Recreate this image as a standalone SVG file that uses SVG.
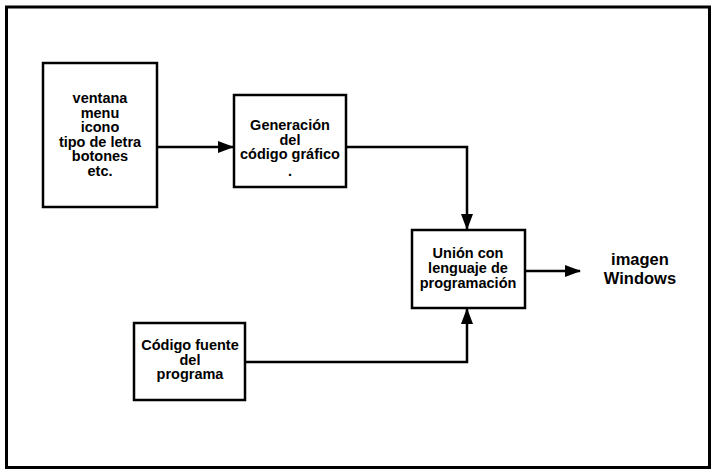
<svg xmlns="http://www.w3.org/2000/svg" width="713" height="470" viewBox="0 0 713 470">
<style>
.box{fill:#fff;stroke:#000;stroke-width:2.5}
.t{font-family:"Liberation Sans",Arial,sans-serif;font-weight:bold;font-size:14.5px;text-anchor:middle;fill:#000}
.big{font-size:16.5px}
.c{fill:none;stroke:#000;stroke-width:2.5}
</style>
<defs>
<marker id="ah" markerWidth="16" markerHeight="12" refX="15" refY="6" orient="auto" markerUnits="userSpaceOnUse">
<path d="M0,0 L16,6 L0,12 Z" fill="#000"/>
</marker>
</defs>
<rect x="6.5" y="7" width="703" height="460.5" fill="none" stroke="#000" stroke-width="3"/>
<g id="connectors">
<line class="c" x1="157" y1="147" x2="233" y2="147" marker-end="url(#ah)"/>
<polyline class="c" points="346,147 467,147 467,229" marker-end="url(#ah)"/>
<polyline class="c" points="245,362 467,362 467,309" marker-end="url(#ah)"/>
<line class="c" x1="525" y1="271" x2="580" y2="271" marker-end="url(#ah)"/>
</g>
<g id="n1">
<rect class="box" x="43" y="63" width="114" height="144"/>
<text class="t" x="100" y="103">ventana</text>
<text class="t" x="100" y="117.5">menu</text>
<text class="t" x="100" y="132">icono</text>
<text class="t" x="100" y="146.5">tipo de letra</text>
<text class="t" x="100" y="161">botones</text>
<text class="t" x="100" y="175.5">etc.</text>
</g>
<g id="n2">
<rect class="box" x="234" y="95" width="112" height="92"/>
<text class="t" x="290" y="130">Generación</text>
<text class="t" x="290" y="144.5">del</text>
<text class="t" x="290" y="159">código gráfico</text>
<text class="t" x="290" y="176">.</text>
</g>
<g id="n3">
<rect class="box" x="412" y="230" width="113" height="78"/>
<text class="t" x="468" y="258">Unión con</text>
<text class="t" x="468" y="273">lenguaje de</text>
<text class="t" x="468" y="288">programación</text>
</g>
<g id="n4">
<rect class="box" x="134" y="323" width="111" height="77"/>
<text class="t" x="190" y="350">Código fuente</text>
<text class="t" x="190" y="364.5">del</text>
<text class="t" x="190" y="379">programa</text>
</g>
<g id="n5">
<text class="t big" x="640" y="265">imagen</text>
<text class="t big" x="640" y="284">Windows</text>
</g>
</svg>
